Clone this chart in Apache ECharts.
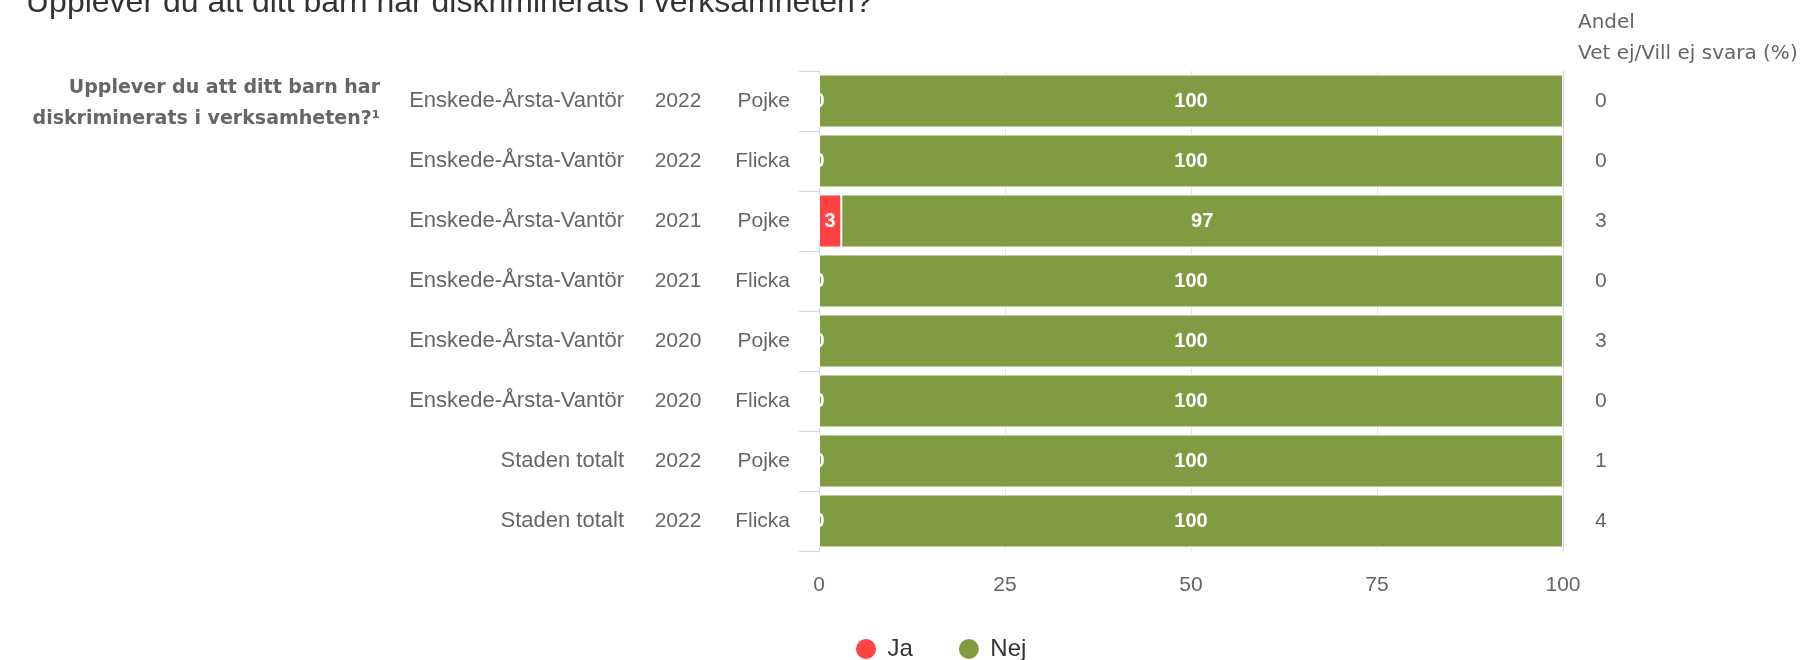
<!DOCTYPE html>
<html>
<head>
<meta charset="utf-8">
<script src="https://cdn.jsdelivr.net/npm/echarts@6/dist/echarts.min.js"></script>
<style>
  html, body { margin: 0; padding: 0; background: #fff; }
  #chart { width: 1814px; height: 660px; }
</style>
</head>
<body>
<div id="chart"></div>
<script>
// Row descriptors (top to bottom)
const areas = ['Enskede-Årsta-Vantör', 'Enskede-Årsta-Vantör', 'Enskede-Årsta-Vantör', 'Enskede-Årsta-Vantör',
               'Enskede-Årsta-Vantör', 'Enskede-Årsta-Vantör', 'Staden totalt', 'Staden totalt'];
const years = ['2022', '2022', '2021', '2021', '2020', '2020', '2022', '2022'];
const genders = ['Pojke', 'Flicka', 'Pojke', 'Flicka', 'Pojke', 'Flicka', 'Pojke', 'Flicka'];

// Answer shares (%)
const ja  = [0, 0, 3, 0, 0, 0, 0, 0];
const nej = [100, 100, 97, 100, 100, 100, 100, 100];
// Share answering "Vet ej/Vill ej svara" (%)
const vetEj = [0, 0, 3, 0, 3, 0, 1, 4];

const xTicks = [0, 25, 50, 75, 100];

const FONT = '"Liberation Sans", Arial, Helvetica, sans-serif';
const WIDE = '"DejaVu Sans", "Liberation Sans", Arial, sans-serif';
const categories = areas.map((a, i) => a + '|' + years[i] + '|' + genders[i]);

const chart = echarts.init(document.getElementById('chart'));

const barLabel = {
  show: true,
  position: 'inside',
  color: '#fff',
  fontFamily: FONT,
  fontSize: 20,
  fontWeight: 'bold'
};

// A label-only category axis on the left, used for each text column
function labelAxis(margin, align, fontSize, values) {
  return {
    type: 'category',
    data: categories,
    inverse: true,
    position: 'left',
    axisLine: { show: false },
    axisTick: { show: false },
    splitLine: { show: false },
    axisLabel: {
      margin: margin,
      align: align,
      color: '#666',
      fontFamily: FONT,
      fontSize: fontSize,
      formatter: (v, i) => values[i]
    }
  };
}

chart.setOption({
  animation: false,
  backgroundColor: '#fff',
  textStyle: { fontFamily: FONT },
  title: {
    text: 'Upplever du att ditt barn har diskriminerats i verksamheten?',
    left: 21,
    top: -18,
    textStyle: { fontFamily: FONT, fontSize: 32, fontWeight: 'normal', color: '#333' }
  },
  legend: {
    data: ['Ja', 'Nej'],
    left: 854,
    top: 637,
    padding: 0,
    icon: 'circle',
    itemWidth: 33,
    itemHeight: 22,
    itemGap: 44,
    textStyle: { fontFamily: FONT, fontSize: 24, color: '#333' }
  },
  grid: { left: 819, right: 251, top: 71, height: 480, containLabel: false },
  xAxis: {
    type: 'value',
    min: 0,
    max: 100,
    interval: 25,
    axisLine: { show: false },
    axisTick: { show: false },
    splitLine: { show: true, lineStyle: { color: '#e6e6e6', width: 1 } },
    axisLabel: {
      margin: 24,
      color: '#666',
      fontFamily: FONT,
      fontSize: 21,
      formatter: v => xTicks.indexOf(v) >= 0 ? String(v) : ''
    }
  },
  yAxis: [
    {
      // main axis: line, boundary ticks and the gender column
      type: 'category',
      data: categories,
      inverse: true,
      position: 'left',
      axisLine: { show: true, lineStyle: { color: '#ccd6eb', width: 1 } },
      axisTick: { show: true, length: 20, lineStyle: { color: '#ccd6eb', width: 1 } },
      splitLine: { show: false },
      axisLabel: {
        margin: 29,
        align: 'right',
        color: '#666',
        fontFamily: FONT,
        fontSize: 21,
        formatter: (v, i) => genders[i]
      }
    },
    {
      // right side: share of "Vet ej/Vill ej svara"
      type: 'category',
      data: categories,
      inverse: true,
      position: 'right',
      axisLine: { show: true, lineStyle: { color: '#ccd6eb', width: 1 } },
      axisTick: { show: false },
      splitLine: { show: false },
      axisLabel: {
        margin: 32,
        color: '#666',
        fontFamily: FONT,
        fontSize: 21,
        formatter: (v, i) => String(vetEj[i])
      }
    },
    labelAxis(141, 'center', 21, years),
    labelAxis(195, 'right', 22, areas)
  ],
  graphic: [
    {
      type: 'text',
      x: 380,
      y: 104,
      style: {
        text: 'Upplever du att ditt barn har\ndiskriminerats i verksamheten?¹',
        textAlign: 'right',
        textVerticalAlign: 'middle',
        verticalAlign: 'middle',
        align: 'right',
        lineHeight: 31,
        fill: '#666',
        font: 'bold 19px ' + WIDE
      }
    },
    {
      type: 'text',
      x: 1578,
      y: 38,
      style: {
        text: 'Andel\nVet ej/Vill ej svara (%)',
        textAlign: 'left',
        align: 'left',
        textVerticalAlign: 'middle',
        verticalAlign: 'middle',
        lineHeight: 31,
        fill: '#666',
        font: '20px ' + WIDE
      }
    }
  ],
  series: [
    {
      name: 'Ja',
      type: 'bar',
      stack: 'svar',
      yAxisIndex: 0,
      barWidth: 53,
      data: ja,
      itemStyle: { color: '#ff4242', borderColor: '#fff', borderWidth: 1 },
      label: barLabel
    },
    {
      name: 'Nej',
      type: 'bar',
      stack: 'svar',
      yAxisIndex: 0,
      barWidth: 53,
      data: nej,
      itemStyle: { color: '#7f9c42', borderColor: '#fff', borderWidth: 1 },
      label: barLabel
    }
  ]
});
</script>
</body>
</html>
